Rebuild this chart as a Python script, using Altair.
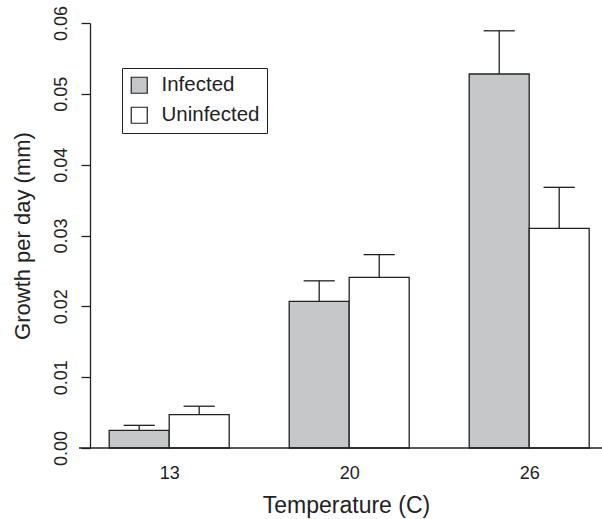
import altair as alt
import pandas as pd

temperatures = ["13", "20", "26"]
groups = ["Infected", "Uninfected"]
infected_mean = [0.0025, 0.0207, 0.0528]
infected_upper = [0.0032, 0.0236, 0.0589]
uninfected_mean = [0.0047, 0.0241, 0.0310]
uninfected_upper = [0.0059, 0.0273, 0.0368]
y_ticks = [0.0, 0.01, 0.02, 0.03, 0.04, 0.05, 0.06]
fill_colors = ["#c6c7c9", "#ffffff"]

rows = []
for i, t in enumerate(temperatures):
    pairs = [(groups[0], infected_mean[i], infected_upper[i]),
             (groups[1], uninfected_mean[i], uninfected_upper[i])]
    for j, (g, m, u) in enumerate(pairs):
        left = 1 + 3 * i + j
        rows.append(dict(temp=t, group=g, mean=m, upper=u, left=left,
                         right=left + 1, center=left + 0.5,
                         capl=left + 0.24, capr=left + 0.76))
df = pd.DataFrame(rows)

centers = [2 + 3 * i for i in range(len(temperatures))]
label_expr = "".join(f"datum.value == {c} ? '{t}' : " for c, t in zip(centers[:-1], temperatures[:-1])) + f"'{temperatures[-1]}'"

W, H = 512, 425
xscale = alt.Scale(domain=[0.68, 0.68 + W / 60.0], nice=False, zero=False)
yscale = alt.Scale(domain=[0, 0.06], nice=False)

FONT = "Liberation Sans"
TXT = "#222222"

xaxis = alt.Axis(values=centers, labelExpr=label_expr, domain=False, ticks=False,
                 grid=False, labelFontSize=18, labelPadding=16, labelFont=FONT,
                 labelColor=TXT, title="Temperature (C)", titleFontSize=23,
                 titleFont=FONT, titleColor=TXT, titleFontWeight="normal",
                 titlePadding=12, labelFlush=False)
yaxis = alt.Axis(values=y_ticks, format=".2f", labelAngle=270, labelAlign="center",
                 labelBaseline="bottom", labelFontSize=18, labelFont=FONT,
                 labelColor=TXT, labelPadding=11, tickSize=9, tickColor=TXT,
                 tickWidth=1.3, domainColor=TXT, domainWidth=1.3, grid=False,
                 title="Growth per day (mm)", titleFontSize=22, titleFont=FONT,
                 titleColor=TXT, titleFontWeight="normal", titlePadding=18,
                 labelFlush=False)

X = lambda f: alt.X(f, scale=xscale, axis=xaxis)
Y = lambda f: alt.Y(f, scale=yscale, axis=yaxis)

base = alt.Chart(df)

bars = base.mark_rect(stroke=TXT, strokeWidth=1.3).encode(
    x=X("left:Q"), x2="right:Q", y=Y("mean:Q"), y2=alt.datum(0),
    fill=alt.Fill("group:N", scale=alt.Scale(domain=groups, range=fill_colors),
                  legend=alt.Legend(title=None, orient="none", legendX=32, legendY=45,
                                    strokeColor=TXT, fillColor="white", padding=7,
                                    symbolType="square", symbolSize=256,
                                    symbolStrokeColor=TXT, symbolStrokeWidth=1.2,
                                    labelFontSize=20.5, labelFont=FONT, labelColor=TXT,
                                    labelOffset=12, rowPadding=8)),
)

err = base.mark_rule(color=TXT, strokeWidth=1.3).encode(
    x=X("center:Q"), y=Y("mean:Q"), y2="upper:Q")
caps = base.mark_rule(color=TXT, strokeWidth=1.3).encode(
    x=X("capl:Q"), x2="capr:Q", y=Y("upper:Q"))
baseline = alt.Chart(pd.DataFrame({"v": [0.0]})).mark_rule(color=TXT, strokeWidth=1.3).encode(
    y=Y("v:Q"), x=alt.value(-11), x2=alt.value(W))

chart = alt.layer(bars, err, caps, baseline).properties(
    width=W, height=H, autosize="none",
    padding={"left": 90, "top": 23, "right": 0, "bottom": 71},
).configure_view(stroke=None)

chart.save("out.html", embed_options={"renderer": "svg", "actions": False})
